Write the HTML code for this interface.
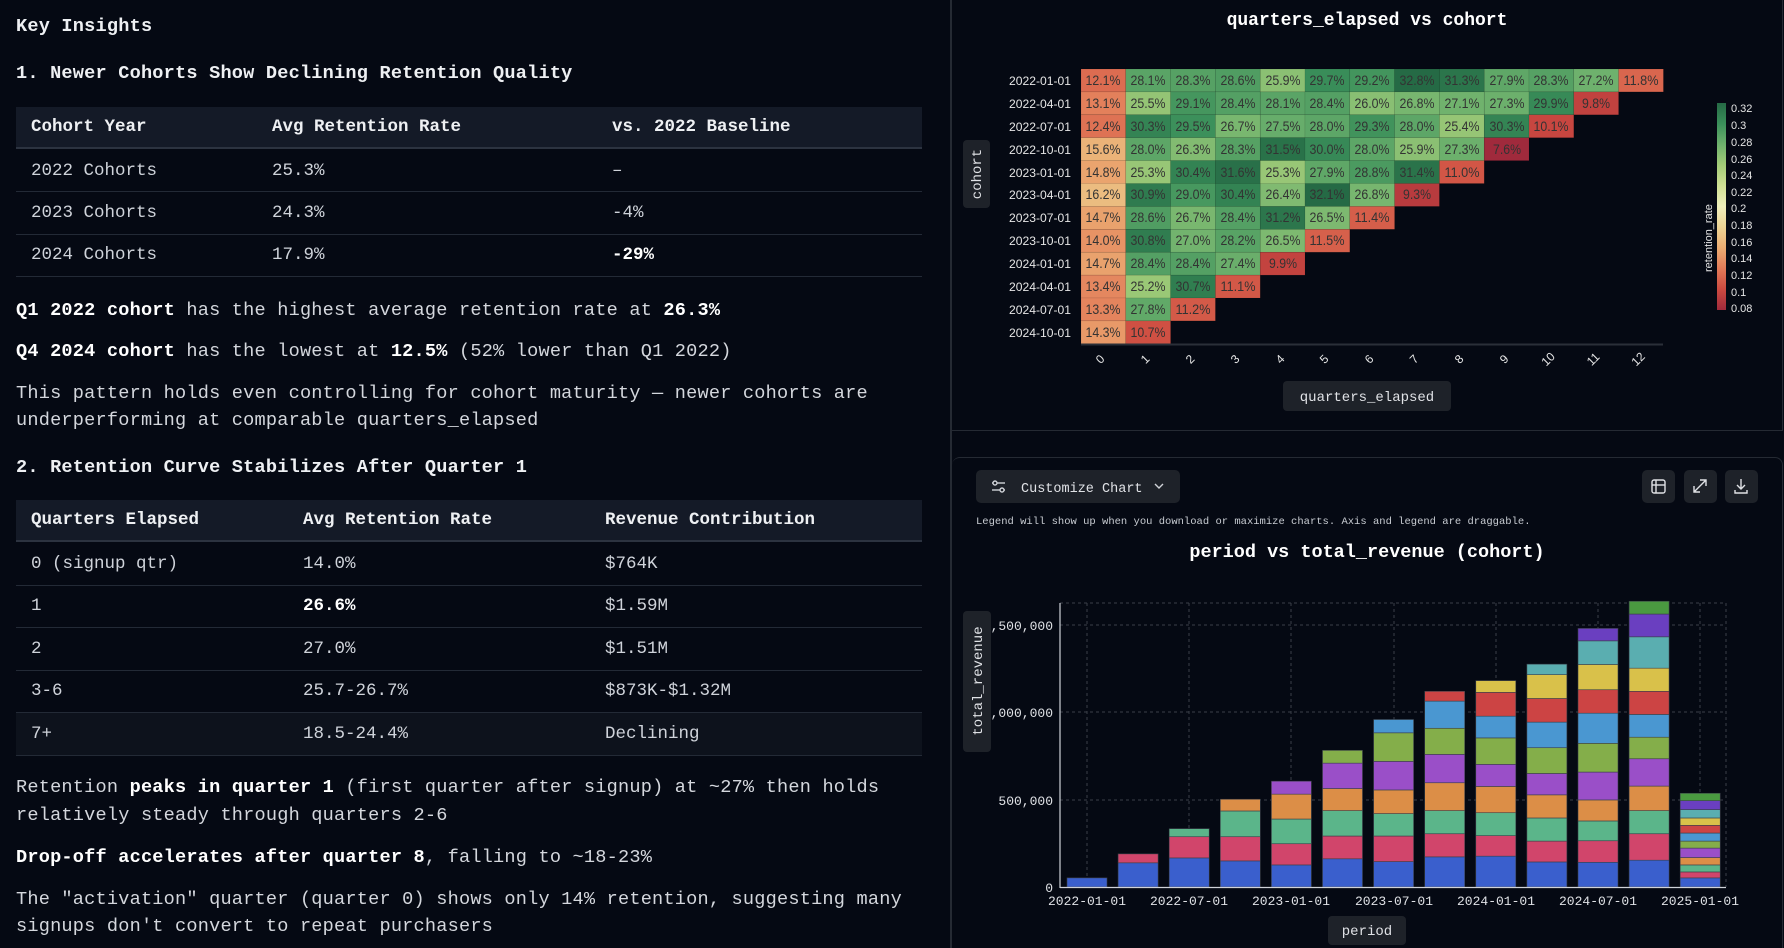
<!DOCTYPE html>
<html><head><meta charset="utf-8">
<style>
html,body{margin:0;padding:0;background:#050913;width:1784px;height:948px;overflow:hidden}
body{position:relative;font-family:"Liberation Mono",monospace;color:#d4d7dd}
.t{position:absolute;left:16px;white-space:nowrap;font-size:18.6px;line-height:24px;letter-spacing:0.2px}
b{color:#fff;font-weight:bold}
.tbl{position:absolute;left:16px;width:906px}
.hdr{position:absolute;left:0;width:906px;background:#141a27;border-bottom:2px solid #2c3340}
.line{position:absolute;left:0;width:906px;height:1px;background:#232a36}
.c{position:absolute;white-space:nowrap;font-size:17.5px;line-height:24px;color:#cfd3da}
.hc{color:#eef0f3;font-weight:bold}
#div{position:absolute;left:950px;top:0;width:2px;height:948px;background:#252a33}
</style></head><body>
<div class="t" style="top:15px;font-weight:bold;color:#eef0f3">Key Insights</div>
<div class="t" style="top:62px;font-weight:bold;color:#eef0f3">1. Newer Cohorts Show Declining Retention Quality</div>

<div class="tbl" style="top:107px;height:170px">
 <div class="hdr" style="top:0;height:40px"></div>
 <div class="c hc" style="left:15px;top:8px">Cohort Year</div>
 <div class="c hc" style="left:256px;top:8px">Avg Retention Rate</div>
 <div class="c hc" style="left:596px;top:8px">vs. 2022 Baseline</div>
 <div class="c" style="left:15px;top:52px">2022 Cohorts</div><div class="c" style="left:256px;top:52px">25.3%</div><div class="c" style="left:596px;top:52px">–</div>
 <div class="line" style="top:84px"></div>
 <div class="c" style="left:15px;top:94px">2023 Cohorts</div><div class="c" style="left:256px;top:94px">24.3%</div><div class="c" style="left:596px;top:94px">-4%</div>
 <div class="line" style="top:127px"></div>
 <div class="c" style="left:15px;top:136px">2024 Cohorts</div><div class="c" style="left:256px;top:136px">17.9%</div><div class="c" style="left:596px;top:136px;font-weight:bold;color:#fff">-29%</div>
 <div class="line" style="top:169px"></div>
</div>

<div class="t" style="top:299px"><b>Q1 2022 cohort</b> has the highest average retention rate at <b>26.3%</b></div>
<div class="t" style="top:340px"><b>Q4 2024 cohort</b> has the lowest at <b>12.5%</b> (52% lower than Q1 2022)</div>
<div class="t" style="top:382px">This pattern holds even controlling for cohort maturity — newer cohorts are</div>
<div class="t" style="top:409px">underperforming at comparable quarters_elapsed</div>
<div class="t" style="top:456px;font-weight:bold;color:#eef0f3">2. Retention Curve Stabilizes After Quarter 1</div>

<div class="tbl" style="top:500px;height:260px">
 <div class="hdr" style="top:0;height:40px"></div>
 <div class="c hc" style="left:15px;top:8px">Quarters Elapsed</div>
 <div class="c hc" style="left:287px;top:8px">Avg Retention Rate</div>
 <div class="c hc" style="left:589px;top:8px">Revenue Contribution</div>
 <div class="c" style="left:15px;top:52px">0 (signup qtr)</div><div class="c" style="left:287px;top:52px">14.0%</div><div class="c" style="left:589px;top:52px">$764K</div>
 <div class="line" style="top:85px"></div>
 <div class="c" style="left:15px;top:94px">1</div><div class="c" style="left:287px;top:94px;font-weight:bold;color:#fff">26.6%</div><div class="c" style="left:589px;top:94px">$1.59M</div>
 <div class="line" style="top:127px"></div>
 <div class="c" style="left:15px;top:137px">2</div><div class="c" style="left:287px;top:137px">27.0%</div><div class="c" style="left:589px;top:137px">$1.51M</div>
 <div class="line" style="top:170px"></div>
 <div style="position:absolute;left:0;top:213px;width:906px;height:42px;background:#0d121c"></div>
 <div class="c" style="left:15px;top:179px">3-6</div><div class="c" style="left:287px;top:179px">25.7-26.7%</div><div class="c" style="left:589px;top:179px">$873K-$1.32M</div>
 <div class="line" style="top:212px"></div>
 <div class="c" style="left:15px;top:222px">7+</div><div class="c" style="left:287px;top:222px">18.5-24.4%</div><div class="c" style="left:589px;top:222px">Declining</div>
 <div class="line" style="top:255px"></div>
</div>

<div class="t" style="top:776px">Retention <b>peaks in quarter 1</b> (first quarter after signup) at ~27% then holds</div>
<div class="t" style="top:804px">relatively steady through quarters 2-6</div>
<div class="t" style="top:846px"><b>Drop-off accelerates after quarter 8</b>, falling to ~18-23%</div>
<div class="t" style="top:888px">The "activation" quarter (quarter 0) shows only 14% retention, suggesting many</div>
<div class="t" style="top:915px">signups don't convert to repeat purchasers</div>

<div id="div"></div>
<div style="position:absolute;left:952px;top:0;width:830px;height:430px;border-bottom:1px solid #252a33;border-right:1px solid #252a33"></div>
<div style="position:absolute;left:952px;top:457px;width:830px;height:500px;border:1px solid #252a33;border-radius:8px;border-left:none"></div>

<svg width="1784" height="948" style="position:absolute;left:0;top:0" font-family="Liberation Sans, sans-serif">
<defs>
<linearGradient id="cb" x1="0" y1="1" x2="0" y2="0">
<stop offset="0" stop-color="#a02a3c"/><stop offset="0.1" stop-color="#cc4a40"/><stop offset="0.2" stop-color="#e27a58"/><stop offset="0.3" stop-color="#ebac72"/><stop offset="0.4" stop-color="#ecd394"/><stop offset="0.5" stop-color="#eeeebb"/><stop offset="0.6" stop-color="#cfe094"/><stop offset="0.7" stop-color="#a3cc78"/><stop offset="0.8" stop-color="#6eb16d"/><stop offset="0.9" stop-color="#3a8f5a"/><stop offset="1" stop-color="#256a45"/>
</linearGradient>
</defs>
<text x="1367" y="25" text-anchor="middle" fill="#fff" font-family="Liberation Mono, monospace" font-weight="bold" font-size="18">quarters_elapsed vs cohort</text>
<g id="cells"></g>
<g fill="#e6e6e6" font-size="12" text-anchor="end">
<text x="1071" y="85" textLength="62" lengthAdjust="spacingAndGlyphs">2022-01-01</text>
<text x="1071" y="108" textLength="62" lengthAdjust="spacingAndGlyphs">2022-04-01</text>
<text x="1071" y="131" textLength="62" lengthAdjust="spacingAndGlyphs">2022-07-01</text>
<text x="1071" y="154" textLength="62" lengthAdjust="spacingAndGlyphs">2022-10-01</text>
<text x="1071" y="177" textLength="62" lengthAdjust="spacingAndGlyphs">2023-01-01</text>
<text x="1071" y="199" textLength="62" lengthAdjust="spacingAndGlyphs">2023-04-01</text>
<text x="1071" y="222" textLength="62" lengthAdjust="spacingAndGlyphs">2023-07-01</text>
<text x="1071" y="245" textLength="62" lengthAdjust="spacingAndGlyphs">2023-10-01</text>
<text x="1071" y="268" textLength="62" lengthAdjust="spacingAndGlyphs">2024-01-01</text>
<text x="1071" y="291" textLength="62" lengthAdjust="spacingAndGlyphs">2024-04-01</text>
<text x="1071" y="314" textLength="62" lengthAdjust="spacingAndGlyphs">2024-07-01</text>
<text x="1071" y="337" textLength="62" lengthAdjust="spacingAndGlyphs">2024-10-01</text>
</g>
<line x1="1081" y1="344.5" x2="1663" y2="344.5" stroke="#2a2f38" stroke-width="2"/>
<g fill="#e6e6e6" font-size="12" text-anchor="middle">
<text transform="translate(1103,362) rotate(-45)">0</text>
<text transform="translate(1148,362) rotate(-45)">1</text>
<text transform="translate(1193,362) rotate(-45)">2</text>
<text transform="translate(1238,362) rotate(-45)">3</text>
<text transform="translate(1283,362) rotate(-45)">4</text>
<text transform="translate(1327,362) rotate(-45)">5</text>
<text transform="translate(1372,362) rotate(-45)">6</text>
<text transform="translate(1417,362) rotate(-45)">7</text>
<text transform="translate(1462,362) rotate(-45)">8</text>
<text transform="translate(1507,362) rotate(-45)">9</text>
<text transform="translate(1551,362) rotate(-45)">10</text>
<text transform="translate(1596,362) rotate(-45)">11</text>
<text transform="translate(1641,362) rotate(-45)">12</text>
</g>
<rect x="1717" y="103" width="9" height="207" fill="url(#cb)"/>
<g fill="#e6e6e6" font-size="11">
<text x="1731" y="112">0.32</text><text x="1731" y="129">0.3</text><text x="1731" y="146">0.28</text><text x="1731" y="163">0.26</text><text x="1731" y="179">0.24</text><text x="1731" y="196">0.22</text><text x="1731" y="212">0.2</text><text x="1731" y="229">0.18</text><text x="1731" y="246">0.16</text><text x="1731" y="262">0.14</text><text x="1731" y="279">0.12</text><text x="1731" y="296">0.1</text><text x="1731" y="312">0.08</text>
</g>
<text transform="translate(1712,272) rotate(-90)" fill="#e6e6e6" font-size="11">retention_rate</text>
<rect x="963" y="140" width="27" height="68" rx="4" fill="#1e2229"/>
<text transform="translate(981,174) rotate(-90)" fill="#e0e2e6" font-size="14" text-anchor="middle" font-family="Liberation Mono, monospace">cohort</text>
<rect x="1283" y="381" width="168" height="30" rx="4" fill="#1e2229"/>
<text x="1367" y="401" fill="#e0e2e6" font-size="14" text-anchor="middle" font-family="Liberation Mono, monospace">quarters_elapsed</text>

<rect x="976" y="470" width="204" height="33" rx="5" fill="#1e2229"/>
<g stroke="#d0d3d8" stroke-width="1.4" fill="none">
<line x1="992" y1="483" x2="1005" y2="483"/><circle cx="995" cy="483" r="2" fill="#1e2229"/>
<line x1="992" y1="490" x2="1005" y2="490"/><circle cx="1002" cy="490" r="2" fill="#1e2229"/>
<path d="M1155 484 l4 4 l4 -4"/>
</g>
<text x="1021" y="492" fill="#e0e2e6" font-size="13.5" font-family="Liberation Mono, monospace">Customize Chart</text>
<rect x="1642" y="470" width="33" height="33" rx="5" fill="#1e2229"/>
<rect x="1684" y="470" width="33" height="33" rx="5" fill="#1e2229"/>
<rect x="1725" y="470" width="33" height="33" rx="5" fill="#1e2229"/>
<g stroke="#e0e2e6" stroke-width="1.4" fill="none">
<rect x="1652" y="480" width="13" height="13" rx="2"/><line x1="1652" y1="485" x2="1665" y2="485"/><line x1="1656" y1="480" x2="1656" y2="493"/>
<path d="M1694 492 l12 -12 M1700 480 h6 v6 M1694 486 v6 h6"/>
<path d="M1741 479 v10 M1737 485 l4 4 l4 -4 M1735 490 v3 h12 v-3"/>
</g>
<text x="976" y="524" fill="#c8ccd2" font-size="10.5" font-family="Liberation Mono, monospace">Legend will show up when you download or maximize charts. Axis and legend are draggable.</text>
<text x="1367" y="557" text-anchor="middle" fill="#fff" font-family="Liberation Mono, monospace" font-weight="bold" font-size="18.5">period vs total_revenue (cohort)</text>
<g stroke="#3a3f48" stroke-dasharray="3,3" stroke-width="1">
<line x1="1060" y1="603" x2="1726" y2="603"/><line x1="1060" y1="625" x2="1726" y2="625"/><line x1="1060" y1="712" x2="1726" y2="712"/><line x1="1060" y1="800" x2="1726" y2="800"/>
<line x1="1087" y1="603" x2="1087" y2="887"/><line x1="1189" y1="603" x2="1189" y2="887"/><line x1="1291" y1="603" x2="1291" y2="887"/><line x1="1394" y1="603" x2="1394" y2="887"/><line x1="1496" y1="603" x2="1496" y2="887"/><line x1="1598" y1="603" x2="1598" y2="887"/><line x1="1700" y1="603" x2="1700" y2="887"/><line x1="1726" y1="603" x2="1726" y2="887"/>
</g>
<g id="bars"></g>
<line x1="1060" y1="603" x2="1060" y2="888" stroke="#cfd2d8" stroke-width="1.2"/>
<line x1="1060" y1="887.5" x2="1726" y2="887.5" stroke="#cfd2d8" stroke-width="1.2"/>
<g fill="#e0e2e6" font-size="13" font-family="Liberation Mono, monospace" text-anchor="end">
<text x="1053" y="630">1,500,000</text><text x="1053" y="717">1,000,000</text><text x="1053" y="805">500,000</text><text x="1053" y="892">0</text>
</g>
<g fill="#e0e2e6" font-size="13" font-family="Liberation Mono, monospace" text-anchor="middle">
<text x="1087" y="905">2022-01-01</text><text x="1189" y="905">2022-07-01</text><text x="1291" y="905">2023-01-01</text><text x="1394" y="905">2023-07-01</text><text x="1496" y="905">2024-01-01</text><text x="1598" y="905">2024-07-01</text><text x="1700" y="905">2025-01-01</text>
</g>
<rect x="963" y="611" width="28" height="141" rx="4" fill="#1e2229"/>
<text transform="translate(982,681) rotate(-90)" fill="#e0e2e6" font-size="14" text-anchor="middle" font-family="Liberation Mono, monospace">total_revenue</text>
<rect x="1328" y="916" width="78" height="29" rx="4" fill="#1e2229"/>
<text x="1367" y="935" fill="#e0e2e6" font-size="14" text-anchor="middle" font-family="Liberation Mono, monospace">period</text>
</svg>

<svg width="1784" height="948" style="position:absolute;left:0;top:0;pointer-events:none" font-family="Liberation Sans, sans-serif">
<g fill="#333333" font-size="13.5" text-anchor="middle" id="ht">
<g transform="translate(0,85)"><text x="1103">12.1%</text><text x="1148">28.1%</text><text x="1193">28.3%</text><text x="1238">28.6%</text><text x="1283">25.9%</text><text x="1327">29.7%</text><text x="1372">29.2%</text><text x="1417">32.8%</text><text x="1462">31.3%</text><text x="1507">27.9%</text><text x="1551">28.3%</text><text x="1596">27.2%</text><text x="1641">11.8%</text></g>
<g transform="translate(0,108)"><text x="1103">13.1%</text><text x="1148">25.5%</text><text x="1193">29.1%</text><text x="1238">28.4%</text><text x="1283">28.1%</text><text x="1327">28.4%</text><text x="1372">26.0%</text><text x="1417">26.8%</text><text x="1462">27.1%</text><text x="1507">27.3%</text><text x="1551">29.9%</text><text x="1596">9.8%</text></g>
<g transform="translate(0,131)"><text x="1103">12.4%</text><text x="1148">30.3%</text><text x="1193">29.5%</text><text x="1238">26.7%</text><text x="1283">27.5%</text><text x="1327">28.0%</text><text x="1372">29.3%</text><text x="1417">28.0%</text><text x="1462">25.4%</text><text x="1507">30.3%</text><text x="1551">10.1%</text></g>
<g transform="translate(0,154)"><text x="1103">15.6%</text><text x="1148">28.0%</text><text x="1193">26.3%</text><text x="1238">28.3%</text><text x="1283">31.5%</text><text x="1327">30.0%</text><text x="1372">28.0%</text><text x="1417">25.9%</text><text x="1462">27.3%</text><text x="1507">7.6%</text></g>
<g transform="translate(0,177)"><text x="1103">14.8%</text><text x="1148">25.3%</text><text x="1193">30.4%</text><text x="1238">31.6%</text><text x="1283">25.3%</text><text x="1327">27.9%</text><text x="1372">28.8%</text><text x="1417">31.4%</text><text x="1462">11.0%</text></g>
<g transform="translate(0,199)"><text x="1103">16.2%</text><text x="1148">30.9%</text><text x="1193">29.0%</text><text x="1238">30.4%</text><text x="1283">26.4%</text><text x="1327">32.1%</text><text x="1372">26.8%</text><text x="1417">9.3%</text></g>
<g transform="translate(0,222)"><text x="1103">14.7%</text><text x="1148">28.6%</text><text x="1193">26.7%</text><text x="1238">28.4%</text><text x="1283">31.2%</text><text x="1327">26.5%</text><text x="1372">11.4%</text></g>
<g transform="translate(0,245)"><text x="1103">14.0%</text><text x="1148">30.8%</text><text x="1193">27.0%</text><text x="1238">28.2%</text><text x="1283">26.5%</text><text x="1327">11.5%</text></g>
<g transform="translate(0,268)"><text x="1103">14.7%</text><text x="1148">28.4%</text><text x="1193">28.4%</text><text x="1238">27.4%</text><text x="1283">9.9%</text></g>
<g transform="translate(0,291)"><text x="1103">13.4%</text><text x="1148">25.2%</text><text x="1193">30.7%</text><text x="1238">11.1%</text></g>
<g transform="translate(0,314)"><text x="1103">13.3%</text><text x="1148">27.8%</text><text x="1193">11.2%</text></g>
<g transform="translate(0,337)"><text x="1103">14.3%</text><text x="1148">10.7%</text></g>
</g>
</svg>

<script>
(function(){
var ns="http://www.w3.org/2000/svg";
var stops=[[160,42,60],[204,74,64],[226,122,88],[235,172,114],[236,211,148],[238,238,187],[207,224,148],[163,204,120],[110,177,109],[58,143,90],[37,106,69]];
function col(v){var t=(v-0.08)/(0.32-0.08);t=Math.max(0,Math.min(1,t))*10;var i=Math.min(9,Math.floor(t)),f=t-i;var a=stops[i],b=stops[i+1];
return "rgb("+[0,1,2].map(function(k){return Math.round(a[k]+(b[k]-a[k])*f)}).join(",")+")";}
var cells=document.getElementById("cells");
var rows=document.querySelectorAll("#ht > g");
rows.forEach(function(g,r){
  g.querySelectorAll("text").forEach(function(t,c){
    var v=parseFloat(t.textContent)/100;
    var R=document.createElementNS(ns,"rect");
    R.setAttribute("x",1081+44.8*c);R.setAttribute("y",69+22.9*r);
    R.setAttribute("width",44.8);R.setAttribute("height",22.9);
    R.setAttribute("fill",col(v));R.setAttribute("stroke","rgba(0,0,0,0.15)");R.setAttribute("stroke-width","0.5");
    cells.appendChild(R);
    t.setAttribute("textLength",t.textContent.length>4?35:28);
    t.setAttribute("lengthAdjust","spacingAndGlyphs");
  });
});
var colors=["#3a5fcd","#d1456b","#5bb58a","#dc8e47","#9a4fc8","#84ae4a","#4a97d1","#cc4444","#d9c14a","#5aaeb0","#6a3fc0","#4a9a40"];
var data=[[52],[138,189],[166,287,333],[149,287,434,501],[126,247,388,530,604],[161,291,436,562,707,780],
[145,291,419,554,717,880,956],[172,304,436,595,757,906,1061,1117],[176,293,424,574,700,851,975,1111,1178],
[143,262,394,526,648,795,941,1076,1212,1272],[141,264,377,497,656,820,992,1126,1270,1405,1476],
[153,304,436,576,732,855,985,1117,1249,1428,1558,1631],[52,86,126,168,222,262,308,352,394,442,493,535]];
var bars=document.getElementById("bars");
function Y(v){return 887-v*87.6/500;}
data.forEach(function(d,i){var cx=1087+51.1*i,prev=0;
  d.forEach(function(v,k){var R=document.createElementNS(ns,"rect");
    R.setAttribute("x",cx-20);R.setAttribute("width",40);R.setAttribute("y",Y(v));R.setAttribute("height",Y(prev)-Y(v));
    R.setAttribute("fill",colors[k]);R.setAttribute("stroke","#3a3f48");R.setAttribute("stroke-width","0.6");bars.appendChild(R);prev=v;});
});
})();
</script>
</body></html>
